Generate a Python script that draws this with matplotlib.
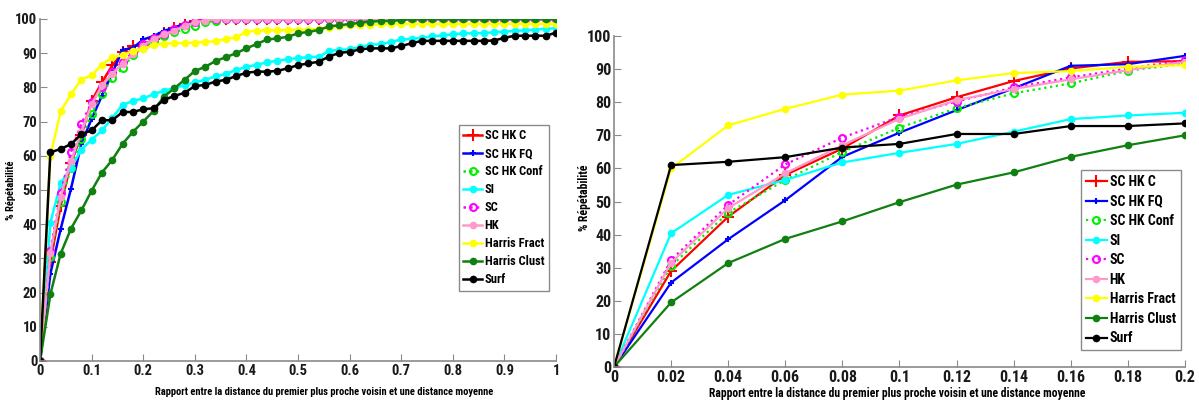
import numpy as np
import matplotlib
matplotlib.use("Agg")
import matplotlib.pyplot as plt
from matplotlib.ticker import FormatStrFormatter

plt.rcParams['font.family'] = ['Roboto Condensed', 'DejaVu Sans']
plt.rcParams['font.weight'] = 'bold'

# ratio values (step 0.02)
x = np.round(np.arange(0, 1.0001, 0.02), 2)

sc_hk_c = [0, 29, 45.4, 58, 66, 76, 81.5, 86.4, 90.2, 92.2, 92.4, 94, 95.8, 97.5, 98.5,
           99.3, 99.7] + [100] * 34
sc_hk_fq = [0, 25.5, 38.6, 50.4, 63.5, 70.8, 77.6, 84.2, 91, 91.5, 94, 95, 96.5, 97.5, 98.5,
            99.2, 99.8] + [100] * 34
sc_hk_conf = [0, 30.5, 46.6, 56.5, 65, 72.3, 78.2, 82.7, 85.7, 89.5, 91.7, 93.5, 95, 96.2, 97,
              98, 99, 99.5] + [100] * 33
si = [0, 40.4, 52, 56.5, 61.8, 64.7, 67.4, 71.1, 74.9, 76, 76.8,
      78, 79, 79.8, 80.6, 81.5, 82.2, 83.2, 84, 85.1, 86,
      86.6, 87.3, 87.8, 88.2, 88.6, 88.8, 89, 90.6, 91, 91.1,
      91.8, 92.5, 92.6, 93.3, 94, 94.2, 94.5, 94.9, 95.2, 95.5,
      95.8, 95.8, 95.9, 96.1, 96.3, 96.5, 96.7, 96.9, 97.1, 97.3]
sc = [0, 32.3, 49, 61.2, 69.3, 75.6, 80.2, 84.5, 87.5, 90.2, 92.7, 94.3, 95.5, 97, 98.3,
      99.2] + [100] * 35
hk = [0, 31.5, 48, 58.5, 67, 75, 80.6, 84, 86.9, 89.7, 92.2, 94, 95.5, 96.5, 98, 99,
      99.5] + [100] * 34
harris_fract = [0, 60, 73, 78, 82.3, 83.5, 86.6, 88.8, 89.4, 90.7, 91.2,
                92.4, 92.8, 92.9, 93, 93.1, 93.3, 93.5, 94.2, 94.6, 96.3,
                96.6, 96.7, 96.7, 96.8, 96.8, 96.9, 97.1, 97.5, 97.8, 98.1,
                98.2, 98.3, 98.4, 98.5, 98.6] + [98.6] * 15
harris_clust = [0, 19.5, 31.4, 38.7, 44, 49.8, 55.1, 58.8, 63.5, 67, 70,
                73.1, 77.3, 79.7, 82.2, 84.8, 86, 87.7, 88.8, 90, 91.4,
                92.7, 94, 94.3, 94.8, 95.8, 96.2, 96.8, 97.8, 98.2, 98.5,
                98.9, 99.2, 99.4, 99.4, 99.7] + [100] * 15
surf = [0, 61, 62, 63.4, 66.3, 67.4, 70.4, 70.4, 72.8, 72.8, 73.6,
        73.9, 76.3, 77.5, 78.4, 80.4, 80.7, 81.7, 82.2, 83.3, 84.3,
        84.6, 84.6, 84.8, 85.6, 86.5, 87, 87.5, 89, 90.1, 90.4,
        91.1, 91.4, 91.4, 91.4, 92.1, 92.9, 93.6, 93.6, 93.6, 93.6,
        93.6, 93.6, 93.6, 93.7, 94.5, 95.1, 95.1, 95.1, 95.1, 96]

labels = ["SC HK C", "SC HK FQ", "SC HK Conf", "SI", "SC", "HK",
          "Harris Fract", "Harris Clust", "Surf"]
series = [sc_hk_c, sc_hk_fq, sc_hk_conf, si, sc, hk, harris_fract, harris_clust, surf]
styles = [
    dict(color="#ff0000", ls="-", marker="+", ms=8, mew=1.5),
    dict(color="#0000ff", ls="-", marker="+", ms=4, mew=1.5),
    dict(color="#00ee00", ls=":", marker="o", ms=5, mfc="none", mew=1.5),
    dict(color="#00ffff", ls="-", marker="o", ms=4.5),
    dict(color="#ff00ff", ls=":", marker="o", ms=5, mfc="none", mew=1.5),
    dict(color="#ff99cc", ls="-", marker="o", ms=4.5),
    dict(color="#ffff00", ls="-", marker="o", ms=4.5),
    dict(color="#108010", ls="-", marker="o", ms=4.5),
    dict(color="#000000", ls="-", marker="o", ms=4.5),
]

fig = plt.figure(figsize=(11.99, 4.01), dpi=100)
ax1 = fig.add_axes([0.0334, 0.0998, 0.4304, 0.8529])
ax2 = fig.add_axes([0.5121, 0.0848, 0.4762, 0.8254])

xlabel = "Rapport entre la distance du premier plus proche voisin et une distance moyenne"


def setup(ax, n, xmax, xstep, tick_fs, lab_fs, leg_fs, leg_anchor, lw, xlab_pos, ylab_pos):
    for lab, y, st in zip(labels, series, styles):
        ax.plot(x[:n], y[:n], label=lab, lw=lw, **st)
    ax.set_xlim(0, xmax)
    ax.set_ylim(0, 100)
    ax.set_xticks(np.arange(0, xmax + 1e-9, xstep))
    ax.set_yticks(np.arange(0, 101, 10))
    ax.xaxis.set_major_formatter(FormatStrFormatter('%g'))
    ax.spines['top'].set_visible(False)
    ax.spines['right'].set_visible(False)
    for s in ('left', 'bottom'):
        ax.spines[s].set_color('#8a8a8a')
        ax.spines[s].set_linewidth(1.2)
    ax.tick_params(direction='in', length=5, color='#8a8a8a', labelsize=tick_fs,
                   labelcolor='#1a1a1a', pad=2)
    ax.set_xlabel(xlabel, fontsize=lab_fs, fontweight='bold', va='center')
    ax.xaxis.set_label_coords(*xlab_pos)
    ax.set_ylabel("% Répétabilité", fontsize=lab_fs, fontweight='bold', va='center')
    ax.yaxis.set_label_coords(*ylab_pos)
    leg = ax.legend(loc='upper left', bbox_to_anchor=leg_anchor, borderaxespad=0,
                    fontsize=leg_fs, fancybox=False, framealpha=1, edgecolor='#8a8a8a',
                    handlelength=1.5, handletextpad=0.2, labelspacing=0.4,
                    borderpad=0.35)
    leg.get_frame().set_linewidth(1.0)


setup(ax1, 51, 1.0, 0.1, 10.5, 7.6, 9, (0.812, 0.69), 1.8, (0.55, -0.09), (-0.056, 0.5))
setup(ax2, 11, 0.2, 0.02, 11.5, 8.4, 10, (0.818, 0.595), 1.6, (0.496, -0.079), (-0.051, 0.51))

fig.savefig("out.png", dpi=100)
